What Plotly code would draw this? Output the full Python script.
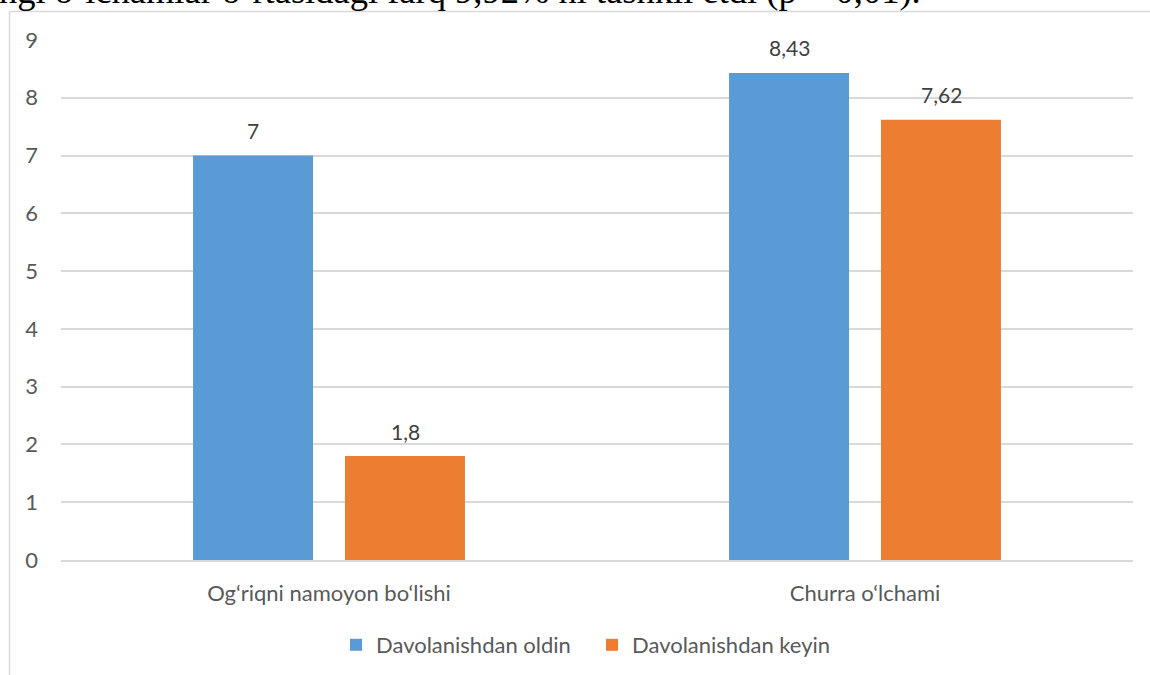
import plotly.graph_objects as go

categories = ["Og\u2018riqni namoyon bo\u2018lishi", "Churra o\u2018lchami"]
series_names = ["Davolanishdan oldin", "Davolanishdan keyin"]
before_vals = [7, 8.43]
after_vals = [1.8, 7.62]
colors = ["#5B9BD5", "#ED7D31"]
y_ticks = [0, 1, 2, 3, 4, 5, 6, 7, 8, 9]
top_text = "ngi o\u2018lchamlar o\u2018rtasidagi farq 9,92% ni tashkil etdi (p < 0,01)."

W, H = 1150, 675
ML, MR, MT, MB = 61, 17, 40, 115
PW, PH = W - ML - MR, H - MT - MB

def px_to_paper_x(px):
    return (px - ML) / PW

def px_to_paper_y(py):
    return (H - MB - py) / PH

FONT = "Lato"
TXT = "#595959"
FS = 22

fig = go.Figure()
for name, vals, col in zip(series_names, [before_vals, after_vals], colors):
    fig.add_trace(go.Bar(x=categories, y=vals, name=name, marker=dict(color=col, line=dict(width=0))))

def fmt(v):
    return ("%g" % v).replace(".", ",")

annotations = []
for shift, vals in zip([-76, 76], [before_vals, after_vals]):
    for c, v in zip(categories, vals):
        annotations.append(dict(x=c, y=v, xref="x", yref="y", text=fmt(v), showarrow=False,
                                xshift=shift, yshift=25, font=dict(family=FONT, size=21, color="#404040")))

annotations.append(dict(x=px_to_paper_x(-3), y=px_to_paper_y(13), xref="paper", yref="paper",
                        xanchor="left", yanchor="bottom", text=top_text, showarrow=False,
                        font=dict(family="Liberation Serif", size=36.5, color="#000000")))

shapes = [
    dict(type="line", xref="paper", yref="paper", x0=px_to_paper_x(9.5), x1=px_to_paper_x(1160),
         y0=px_to_paper_y(11.5), y1=px_to_paper_y(11.5), line=dict(color="#D9D9D9", width=1.5)),
    dict(type="line", xref="paper", yref="paper", x0=px_to_paper_x(9.5), x1=px_to_paper_x(9.5),
         y0=px_to_paper_y(11.5), y1=px_to_paper_y(690), line=dict(color="#D9D9D9", width=1.5)),
]

fig.update_layout(
    width=W, height=H,
    margin=dict(l=ML, r=MR, t=MT, b=MB, pad=0, autoexpand=False),
    paper_bgcolor="white", plot_bgcolor="white",
    barmode="group", bargap=0.433, bargroupgap=0.2105,
    font=dict(family=FONT, size=FS, color=TXT),
    showlegend=True,
    legend=dict(orientation="h", x=px_to_paper_x(336), xanchor="left", y=px_to_paper_y(645), yanchor="middle",
                entrywidth=211, entrywidthmode="pixels",
                font=dict(family=FONT, size=FS, color=TXT), traceorder="normal"),
    annotations=annotations,
    shapes=shapes,
)
fig.update_xaxes(showgrid=False, showline=True, linecolor="#D9D9D9", linewidth=1.5,
                 ticks="", tickfont=dict(family=FONT, size=FS, color=TXT), ticklabelstandoff=13)
fig.update_yaxes(range=[0, 9], tickvals=y_ticks, showgrid=True, gridcolor="#D9D9D9", gridwidth=1.5,
                 zeroline=False, showline=False, ticks="",
                 tickfont=dict(family=FONT, size=FS, color=TXT), ticklabelstandoff=22)

fig.write_html("out.html", config={"displayModeBar": False},
               post_script="document.body.style.margin='0';document.body.style.overflow='hidden';")
